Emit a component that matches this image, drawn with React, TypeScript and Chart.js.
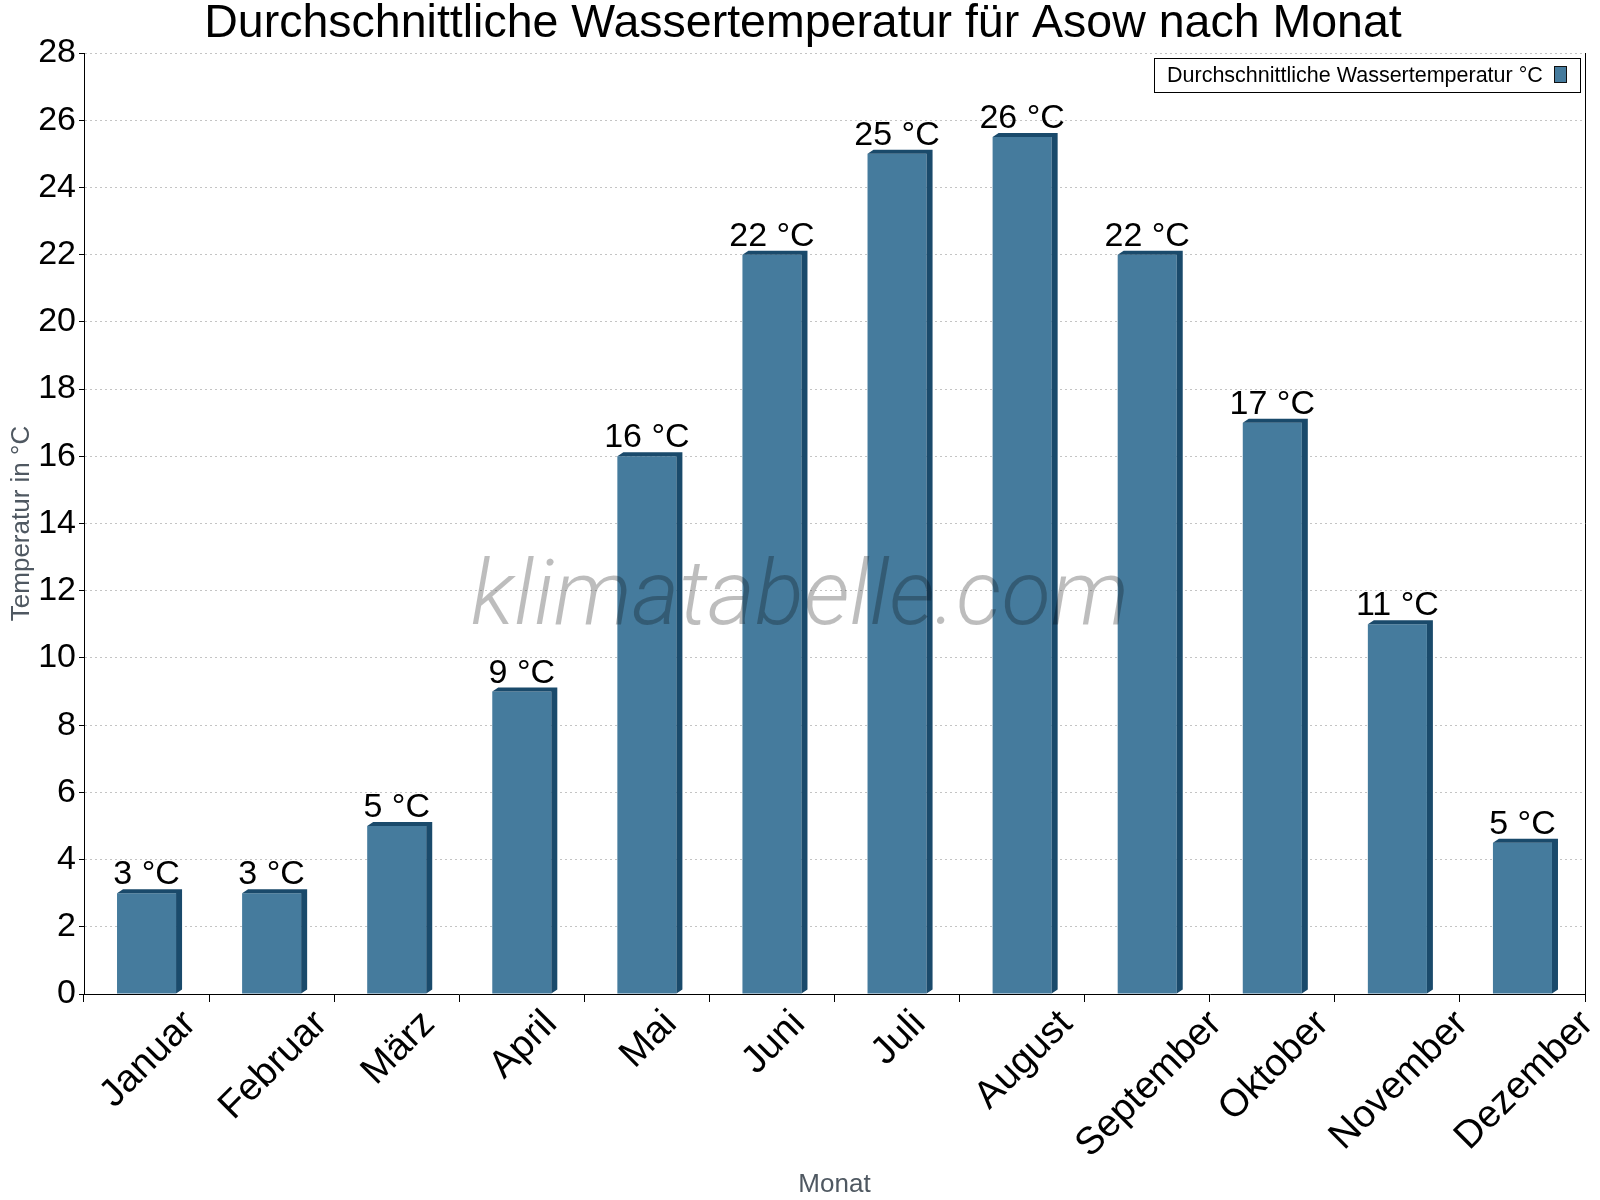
import React, { useEffect, useRef } from 'react';
import { Chart, registerables } from 'chart.js';

Chart.register(...registerables);

const chartTitle = 'Durchschnittliche Wassertemperatur für Asow nach Monat';
const seriesLabel = 'Durchschnittliche Wassertemperatur °C';
const xAxisTitle = 'Monat';
const yAxisTitle = 'Temperatur in °C';
const watermarkText = 'klimatabelle.com';
const unitSuffix = ' °C';

const months = [
  'Januar', 'Februar', 'März', 'April', 'Mai', 'Juni',
  'Juli', 'August', 'September', 'Oktober', 'November', 'Dezember',
];
const waterTemps = [3, 3, 5, 9, 16, 22, 25, 25.5, 22, 17, 11, 4.5];
const yMin = 0;
const yMax = 28;
const yStep = 2;

const FRONT = '#457b9d';
const SIDE = '#1a4a6b';
const FONT = '"Liberation Sans", Arial, Helvetica, sans-serif';

const decorPlugin = {
  id: 'decor',
  afterDatasetsDraw(chart: any) {
    const ctx = chart.ctx as CanvasRenderingContext2D;
    const meta = chart.getDatasetMeta(0);
    const dx = 6;
    const dy = 4;
    ctx.save();
    // 3D sides
    ctx.fillStyle = SIDE;
    meta.data.forEach((bar: any) => {
      const { x, y, width, base } = bar.getProps(['x', 'y', 'width', 'base'], true);
      const l = x - width / 2;
      const r = x + width / 2;
      ctx.beginPath();
      ctx.moveTo(l, y);
      ctx.lineTo(l + dx, y - dy);
      ctx.lineTo(r + dx, y - dy);
      ctx.lineTo(r + dx, base - dy);
      ctx.lineTo(r, base);
      ctx.lineTo(r, y);
      ctx.closePath();
      ctx.fill();
    });
    // watermark
    ctx.font = `italic 300 91px "Roboto Light", Roboto, "Liberation Sans", sans-serif`;
    ctx.fillStyle = 'rgba(0,0,0,0.26)';
    ctx.textAlign = 'center';
    ctx.textBaseline = 'alphabetic';
    ctx.fillText(watermarkText, 800, 624);
    // value labels
    ctx.font = `34px ${FONT}`;
    ctx.fillStyle = '#000';
    ctx.textAlign = 'center';
    ctx.textBaseline = 'alphabetic';
    meta.data.forEach((bar: any, i: number) => {
      const { x, y } = bar.getProps(['x', 'y'], true);
      ctx.fillText(`${Math.round(waterTemps[i])}${unitSuffix}`, x, y - 9);
    });
    ctx.restore();
  },
  afterDraw(chart: any) {
    const ctx = chart.ctx as CanvasRenderingContext2D;
    const area = chart.chartArea;
    const xs = chart.scales.x;
    ctx.save();
    // right frame line
    ctx.strokeStyle = '#000';
    ctx.lineWidth = 1;
    ctx.beginPath();
    ctx.moveTo(Math.round(area.right) + 0.5, area.top);
    ctx.lineTo(Math.round(area.right) + 0.5, area.bottom);
    ctx.stroke();
    // title
    ctx.font = `46.5px ${FONT}`;
    ctx.fillStyle = '#000';
    ctx.textAlign = 'center';
    ctx.textBaseline = 'alphabetic';
    ctx.fillText(chartTitle, 803, 37);
    // x labels rotated
    ctx.font = `38.5px ${FONT}`;
    ctx.textBaseline = 'middle';
    ctx.textAlign = 'center';
    months.forEach((m, i) => {
      const cx = xs.getPixelForValue(i) + 2;
      const L = ctx.measureText(m).width;
      const h = 28;
      const cy = xs.top + 14 + (L + h) / (2 * Math.SQRT2);
      ctx.save();
      ctx.translate(cx, cy);
      ctx.rotate(-Math.PI / 4);
      ctx.fillText(m, 0, 0);
      ctx.restore();
    });
    // legend
    const bx = 1154, by = 58, bw = 426, bh = 34;
    ctx.fillStyle = '#fff';
    ctx.fillRect(bx, by, bw, bh);
    ctx.strokeStyle = '#000';
    ctx.lineWidth = 1;
    ctx.strokeRect(bx + 0.5, by + 0.5, bw, bh);
    ctx.font = `21.5px ${FONT}`;
    ctx.fillStyle = '#000';
    ctx.textAlign = 'left';
    ctx.textBaseline = 'middle';
    ctx.fillText(seriesLabel, 1167, by + bh / 2 + 1);
    ctx.fillStyle = FRONT;
    ctx.fillRect(1554, 66, 13, 17);
    ctx.strokeStyle = '#111';
    ctx.strokeRect(1554.5, 66.5, 12, 16);
    ctx.restore();
  },
};

export default function App() {
  const ref = useRef<HTMLCanvasElement>(null);
  useEffect(() => {
    const canvas = ref.current;
    if (!canvas) return;
    const chart = new Chart(canvas, {
      type: 'bar',
      data: {
        labels: months,
        datasets: [
          {
            label: seriesLabel,
            data: waterTemps,
            backgroundColor: FRONT,
            borderWidth: 0,
            categoryPercentage: 1,
            barPercentage: 0.472,
          },
        ],
      },
      options: {
        responsive: false,
        animation: false,
        devicePixelRatio: 1,
        layout: { padding: { left: 0, right: 15, top: 53, bottom: 0 } },
        plugins: {
          legend: { display: false },
          title: { display: false },
          tooltip: { enabled: false },
        },
        scales: {
          x: {
            offset: true,
            grid: {
              display: true,
              drawOnChartArea: false,
              drawTicks: true,
              tickLength: 8,
              tickColor: '#000',
              offset: true,
            },
            border: { display: true, color: '#000', width: 1 },
            ticks: { display: false },
            title: {
              display: true,
              text: xAxisTitle,
              color: '#4f5861',
              font: { size: 26, family: FONT },
              padding: { top: 0, bottom: 0 },
            },
            afterFit: (s: any) => {
              s.height = 206;
            },
          },
          y: {
            min: yMin,
            max: yMax,
            ticks: {
              stepSize: yStep,
              color: '#000',
              font: { size: 34, family: FONT },
              padding: 3,
            },
            grid: {
              color: (c: any) => (c.tick && c.tick.value === 0 ? 'transparent' : '#c4c4c4'),
              tickColor: '#000',
              tickLength: 5,
              lineWidth: 1,
            },
            border: { display: true, color: '#000', width: 1, dash: [2, 3] },
            title: {
              display: true,
              text: yAxisTitle,
              color: '#4f5861',
              font: { size: 26, family: FONT },
              padding: { top: 6, bottom: 0 },
            },
            afterFit: (s: any) => {
              s.width = 84;
            },
          },
        },
      },
      plugins: [decorPlugin],
    } as any);
    return () => chart.destroy();
  }, []);
  return (
    <div style={{ position: 'fixed', left: 0, top: 0, width: 1600, height: 1200, background: '#fff' }}>
      <canvas ref={ref} width={1600} height={1200} style={{ width: 1600, height: 1200, display: 'block' }} />
    </div>
  );
}
